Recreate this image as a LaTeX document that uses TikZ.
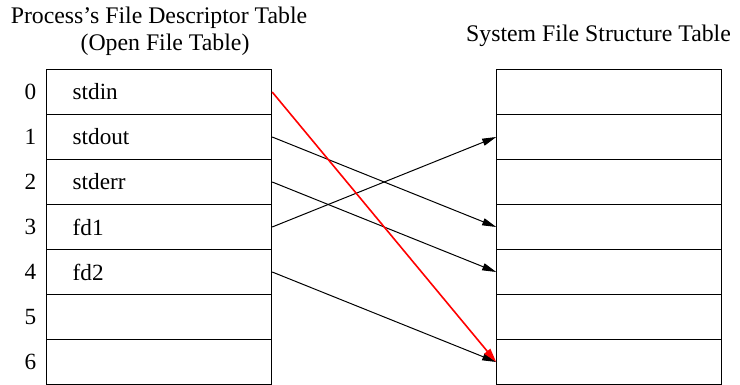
\documentclass[tikz,border=0pt]{standalone}
\usepackage{fontspec}
\setmainfont{Liberation Serif}
\usetikzlibrary{arrows.meta,positioning}

\tikzstyle{title} = [font=\fontsize{11.9}{14}\selectfont, inner sep=0pt]
\tikzstyle{entry} = [draw, line width=0.5pt, rectangle, minimum width=112.5pt, minimum height=22.5pt,
  text width=86.5pt, inner xsep=13pt, inner ysep=0pt, align=left, font=\fontsize{11.6}{14}\selectfont]
\tikzstyle{index} = [font=\fontsize{11.6}{14}\selectfont]
\tikzstyle{pointer} = [draw, line width=0.5pt, -{Triangle[length=7pt,width=3.6pt]}]
\tikzstyle{redpointer} = [draw, red, line width=0.8pt, -{Triangle[length=7pt,width=3.8pt]}]

\begin{document}
\begin{tikzpicture}[x=0.5pt, y=-0.5pt]
      \useasboundingbox (0,0) rectangle (740,385);
      %titles
      \node[title] (ptitle) at (159,18) {Process’s File Descriptor Table};
      \node[title] (ptitle2) at (165,45) {(Open File Table)};
      \node[title] (stitle) at (598.5,36) {System File Structure Table};
      %tables
      \foreach \i/\value in {0/stdin, 1/stdout, 2/stderr, 3/fd1, 4/fd2, 5/{}, 6/{}}
      {
        \node[entry] (p\i) at (159.2,92+45*\i) {\value};
        \node[index, left=1.5pt of p\i.west] {\i};
        \node[entry] (s\i) at (609.2,92+45*\i) {};
      };
      %pointers
      \path
      \foreach \startnode/\endnode in {1/3, 2/4, 3/1, 4/6}
      {
        (p\startnode.east) edge[pointer] (s\endnode.west)
      };
      \path (p0.east) edge[redpointer] (s6.west);
    \end{tikzpicture}
\end{document}
